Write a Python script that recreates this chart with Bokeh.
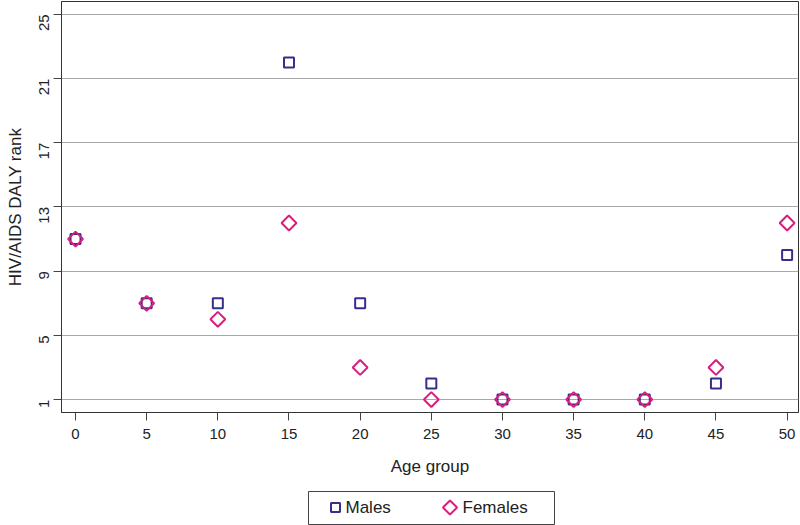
import math
from bokeh.plotting import figure
from bokeh.layouts import column
from bokeh.models import FixedTicker, Range1d
from bokeh.core.properties import value
from bokeh.embed import file_html
from bokeh.resources import INLINE

age_groups = [0, 5, 10, 15, 20, 25, 30, 35, 40, 45, 50]
males_rank = [11, 7, 7, 22, 7, 2, 1, 1, 1, 2, 10]
females_rank = [11, 7, 6, 12, 3, 1, 1, 1, 1, 3, 12]
x_ticks = [0, 5, 10, 15, 20, 25, 30, 35, 40, 45, 50]
y_ticks = [1, 5, 9, 13, 17, 21, 25]
series_labels = ["Males", "Females"]

male_color = "#3a2e8c"
female_color = "#d81f7f"
font = "Liberation Sans"
text_color = "#222222"

p = figure(width=800, height=478, output_backend="svg", toolbar_location=None,
           x_range=Range1d(-0.985, 50.80), y_range=Range1d(0.194, 25.80),
           min_border_top=1, min_border_right=2, min_border_left=61,
           min_border_bottom=64)

p.background_fill_color = "white"
p.outline_line_color = "#333333"
p.outline_line_width = 1

p.scatter(age_groups, males_rank, marker="square", size=10,
          fill_color=None, line_color=male_color, line_width=2)
p.scatter(age_groups, females_rank, marker="square", angle=math.pi / 4,
          size=10.5, fill_color=None, line_color=female_color, line_width=2)

p.xgrid.grid_line_color = None
p.ygrid.grid_line_color = "#a8a8a8"
p.ygrid.grid_line_width = 1

p.xaxis.ticker = FixedTicker(ticks=x_ticks)
p.yaxis.ticker = FixedTicker(ticks=y_ticks)
for ax in (p.xaxis[0], p.yaxis[0]):
    ax.axis_line_color = "#333333"
    ax.major_tick_line_color = "#444444"
    ax.major_tick_out = 8
    ax.major_tick_in = 0
    ax.minor_tick_line_color = None
    ax.major_label_text_font = font
    ax.major_label_text_font_size = "15px"
    ax.major_label_text_color = text_color
    ax.axis_label_text_font = font
    ax.axis_label_text_font_style = "normal"
    ax.axis_label_text_color = text_color

p.xaxis.axis_label = "Age group"
p.yaxis.axis_label = "HIV/AIDS DALY rank"
p.xaxis.axis_label_text_font_size = "17px"
p.yaxis.axis_label_text_font_size = "17px"
p.yaxis.major_label_orientation = math.pi / 2
p.xaxis.major_label_standoff = 8
p.xaxis.axis_label_standoff = 15
p.yaxis.major_label_standoff = 9
p.yaxis.axis_label_standoff = 7

# legend strip below the plot; its ranges are in page pixels
lg = figure(width=800, height=47, output_backend="svg", toolbar_location=None,
            x_range=Range1d(61, 798), y_range=Range1d(525, 478),
            min_border_top=0, min_border_right=2, min_border_left=61,
            min_border_bottom=0)
lg.axis.visible = False
lg.grid.visible = False
lg.outline_line_color = None

box_left, box_right, box_top, box_bottom = 308, 554, 491, 524
row_y = 507
lg.quad(left=[box_left], right=[box_right], top=[box_top], bottom=[box_bottom],
        fill_color=None, line_color="#444444", line_width=1)
lg.scatter([335], [row_y], marker="square", size=9,
           fill_color=None, line_color=male_color, line_width=2)
lg.scatter([449.5], [row_y], marker="square", angle=math.pi / 4, size=10,
           fill_color=None, line_color=female_color, line_width=2)
lg.text(x=[345, 462], y=[row_y, row_y], text=series_labels,
        text_font=value(font), text_font_size="17px", text_color=text_color,
        text_baseline="middle", text_align="left")

layout = column(p, lg, spacing=0)
open("out.html", "w").write(file_html(layout, INLINE))
